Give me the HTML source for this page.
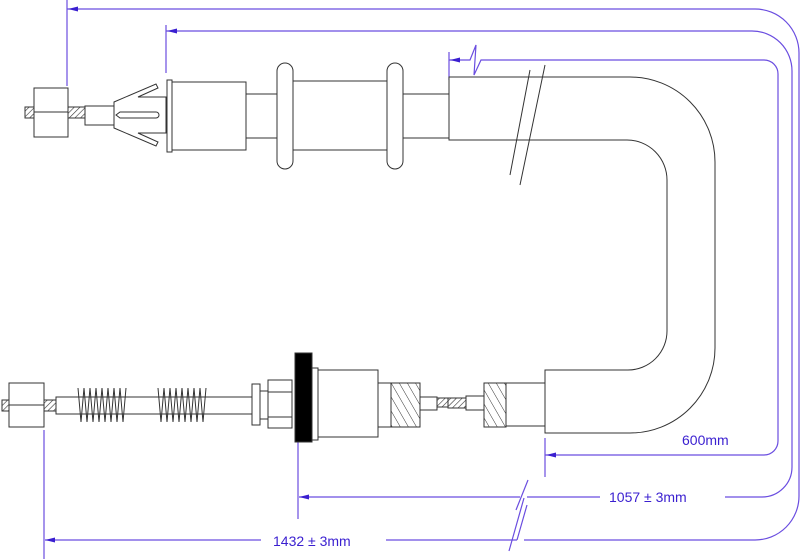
<!DOCTYPE html>
<html><head><meta charset="utf-8"><style>
html,body{margin:0;padding:0;background:#fff;}
svg{display:block;}
text{font-family:"Liberation Sans",sans-serif;font-size:14px;fill:#3a1fd0;}
</style></head><body>
<svg width="800" height="559" viewBox="0 0 800 559" xmlns="http://www.w3.org/2000/svg">
<defs>
<pattern id="h" width="4" height="4" patternUnits="userSpaceOnUse" patternTransform="rotate(45)">
<rect width="4" height="4" fill="#fff"/><line x1="0" y1="0" x2="0" y2="4" stroke="#333" stroke-width="1.2"/></pattern>
<pattern id="h2" width="7" height="7" patternUnits="userSpaceOnUse" patternTransform="rotate(-30)">
<rect width="7" height="7" fill="#fff"/><line x1="0" y1="0" x2="0" y2="7" stroke="#333" stroke-width="1"/></pattern>
</defs>
<g fill="none" stroke="#6a4de0" stroke-width="1.2">
<!-- outer 1432 -->
<path d="M67 9 H755 A44 44 0 0 1 799 53 V496 A44 44 0 0 1 755 540 H524 M517 540 H386 M261 540 H45"/>
<line x1="67" y1="0" x2="67" y2="86"/>
<line x1="44" y1="430" x2="44" y2="559"/>
<path d="M509 551 L524 498 M517 540 L527 505"/>
<!-- 1057 -->
<path d="M166 31 H752 A40 40 0 0 1 792 71 V467 A30 30 0 0 1 762 497 H725 M600 497 H527 M520 497 H299"/>
<line x1="166" y1="25" x2="166" y2="73"/>
<line x1="298" y1="440" x2="298" y2="519"/>
<path d="M516 510 L528 480"/>
<!-- 600 -->
<path d="M449 60 H470 L476 45 L474 75 L481 60 H764 A14 14 0 0 1 778 74 V441 A14 14 0 0 1 764 455 H545"/>
<line x1="449" y1="52" x2="449" y2="80"/>
<line x1="545" y1="438" x2="545" y2="477"/>
</g>
<g fill="#3a1fd0">
<path d="M68 9 L78 6.5 L78 11.5Z"/><path d="M167 31 L177 28.5 L177 33.5Z"/>
<path d="M450 60 L460 57.5 L460 62.5Z"/><path d="M546 455 L556 452.5 L556 457.5Z"/>
<path d="M299 497 L309 494.5 L309 499.5Z"/><path d="M45 540 L55 537.5 L55 542.5Z"/>
</g>
<text x="682" y="445">600mm</text>
<text x="609" y="502">1057 ± 3mm</text>
<text x="273" y="546">1432 ± 3mm</text>
<g fill="#fff" stroke="#333" stroke-width="1">
<!-- U tube -->
<path d="M449 77 H630 A85 85 0 0 1 715 162 V348 A85 85 0 0 1 630 433 H545 V370 H628 A39 39 0 0 0 667 331 V180 A40 40 0 0 0 627 140 H449Z"/>
<path d="M510 175 L530 70 M520 185 L545 65" />
<!-- upper fitting -->
<rect x="25" y="107" width="60" height="11" fill="url(#h)"/>
<rect x="34" y="88" width="34" height="49"/>
<line x1="34" y1="112" x2="68" y2="112"/>
<rect x="85" y="106" width="29" height="19"/>
<path d="M114 102 L156 84 L158 88 L138 97 L166 97 V133 L138 133 L158 142 L156 146 L114 128Z"/>
<path d="M120 112 H156 A3 3 0 0 1 156 118 H120 L116 115Z"/>
<rect x="167" y="80" width="5" height="72"/>
<rect x="172" y="82" width="74" height="68"/>
<rect x="246" y="94" width="31" height="44"/>
<rect x="293" y="81" width="94" height="69"/>
<rect x="403" y="94" width="46" height="44"/>
<rect x="277" y="63" width="16" height="106" rx="8"/>
<rect x="387" y="63" width="16" height="106" rx="8"/>
<!-- lower -->
<rect x="2" y="400" width="56" height="11" fill="url(#h)"/>
<rect x="9" y="383" width="35" height="44"/>
<line x1="9" y1="405" x2="44" y2="405"/>
<rect x="56" y="397" width="196" height="17"/>
<g fill="none">
<path d="M78 388 l3 34 l3-34 l3 34 l3-34 l3 34 l3-34 l3 34 l3-34 l3 34 l3-34 l3 34 l3-34 l3 34 l3-34 l3 34 l3-34"/>
<path d="M158 388 l3 34 l3-34 l3 34 l3-34 l3 34 l3-34 l3 34 l3-34 l3 34 l3-34 l3 34 l3-34 l3 34 l3-34 l3 34 l3-34"/>
</g>
<rect x="252" y="384" width="8" height="41"/>
<rect x="260" y="391" width="8" height="28"/>
<path d="M268 380 H292 V428 H268Z"/>
<line x1="268" y1="392" x2="292" y2="392"/><line x1="268" y1="417" x2="292" y2="417"/>
<rect x="295" y="353" width="17" height="89" fill="#000"/>
<rect x="312" y="368" width="6" height="72"/>
<rect x="318" y="370" width="60" height="67"/>
<rect x="378" y="383" width="42" height="44"/>
<rect x="391" y="383" width="29" height="44" fill="url(#h2)"/>
<rect x="420" y="397" width="17" height="13"/>
<rect x="437" y="398" width="12" height="9" fill="url(#h)"/>
<rect x="448" y="398" width="18" height="10" fill="url(#h)"/>
<rect x="466" y="396" width="18" height="14"/>
<rect x="484" y="383" width="22" height="44" fill="url(#h2)"/>
<rect x="506" y="383" width="39" height="43"/>
</g>
</svg>
</body></html>
